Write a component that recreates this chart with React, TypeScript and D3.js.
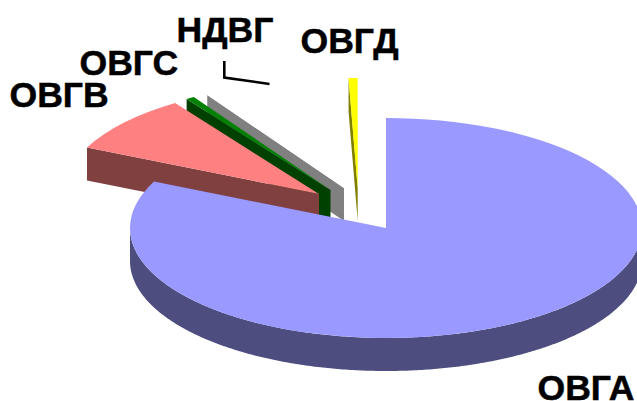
import React from "react";
import * as d3 from "d3";

// Share of each category, clockwise from twelve o'clock
const categories = ["ОВГА", "ОВГВ", "ОВГС", "НДВГ", "ОВГД"];
const shares = [81.95, 8.55, 0.53, 8.4, 0.57];
const topColors = ["#9999FF", "#FF8080", "#008000", "#FFFFFF", "#FFFF00"];
const wallColors = ["#4D4D80", "#804040", "#004000", "#808080", "#808000"];
const apexX = [386, 319, 330.5, 344, 357.7];
const apexY = [228, 194, 190, 188, 188];
const labelX = [537.5, 9.5, 79.5, 176.5, 300.5];
const labelY = [399.5, 107, 75, 42, 53];
const drawOrder = [3, 4, 2, 1, 0];

const WIDTH = 637;
const HEIGHT = 401;
const RX = 256;
const RY = 110;
const DEPTH = 33;

const pie = d3.pie<number>().sort(null).value((d) => d);
const arcs = pie(shares);
const sector = d3.arc<d3.PieArcDatum<number>>().innerRadius(0).outerRadius(RX);
const outline = d3.line<[number, number]>();

// Point on the ellipse rim of a slice, angle measured clockwise from the top
const rim = (i: number, a: number): [number, number] => [
  apexX[i] + RX * Math.sin(a),
  apexY[i] - RY * Math.cos(a),
];

// Side walls of a slice: the part of the rim facing the viewer and any visible cut face
function walls(i: number): string[] {
  const { startAngle: s, endAngle: e } = arcs[i];
  const paths: string[] = [];
  const from = Math.max(s, Math.PI / 2);
  const to = Math.min(e, (3 * Math.PI) / 2);
  if (to > from) {
    const angles = d3.range(from, to, 0.01).concat(to);
    const upper = angles.map((a) => rim(i, a));
    const lower = upper.map(([x, y]) => [x, y + DEPTH] as [number, number]).reverse();
    paths.push(outline([...upper, ...lower]) + "Z");
  }
  const cut = (a: number) => {
    const [x, y] = rim(i, a);
    const ax = apexX[i];
    const ay = apexY[i];
    paths.push(
      outline([[ax, ay], [x, y], [x, y + DEPTH], [ax, ay + DEPTH]]) + "Z",
    );
  };
  if (s > Math.PI) cut(s);
  if (e < Math.PI) cut(e);
  return paths;
}

export default function App() {
  return (
    <svg
      width={WIDTH}
      height={HEIGHT}
      viewBox={`0 0 ${WIDTH} ${HEIGHT}`}
      style={{ position: "fixed", left: 0, top: 0, background: "#fff" }}
    >
      {drawOrder.map((i) => (
        <g key={categories[i]}>
          {walls(i).map((d, k) => (
            <path key={k} d={d} fill={wallColors[i]} />
          ))}
          <path
            d={sector(arcs[i]) ?? ""}
            fill={topColors[i]}
            transform={`translate(${apexX[i]},${apexY[i]}) scale(1,${RY / RX})`}
          />
        </g>
      ))}
      <polyline
        points="224.3,61 224.3,77.5 269.5,84"
        fill="none"
        stroke="#000"
        strokeWidth={2.6}
      />
      {categories.map((c, i) => (
        <text
          key={c}
          x={labelX[i]}
          y={labelY[i]}
          fontFamily="'Liberation Sans', Arial, sans-serif"
          fontWeight="bold"
          fontSize={35.6}
          stroke="#000"
          strokeWidth={0.5}
          fill="#000"
        >
          {c}
        </text>
      ))}
    </svg>
  );
}
